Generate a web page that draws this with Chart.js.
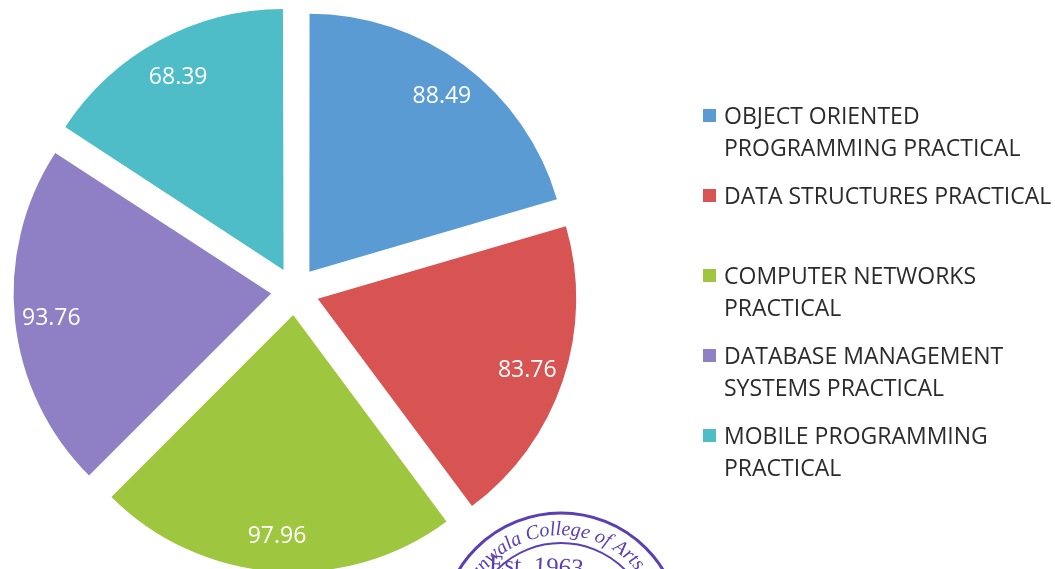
<!DOCTYPE html>
<html>
<head>
<meta charset="utf-8">
<script src="https://cdn.jsdelivr.net/npm/chart.js@4"></script>
<style>
    html, body { margin: 0; padding: 0; background: #fff; overflow: hidden; }
    body { width: 1055px; height: 569px; position: relative; }
    #pieChart { position: absolute; left: 0; top: 0; }
    #legend { position: absolute; left: 0; top: 0; font-family: "Open Sans", sans-serif; font-size: 23px; color: #2b2b2b; }
    .item { position: absolute; left: 724px; line-height: 32px; white-space: nowrap; }
    .box { position: absolute; left: -21px; top: 10px; width: 13px; height: 13px; }
</style>
</head>
<body>
<canvas id="pieChart" width="1055" height="582"></canvas>
<div id="legend"></div>
<script>
const subjects = [
    "OBJECT ORIENTED PROGRAMMING PRACTICAL",
    "DATA STRUCTURES PRACTICAL",
    "COMPUTER NETWORKS PRACTICAL",
    "DATABASE MANAGEMENT SYSTEMS PRACTICAL",
    "MOBILE PROGRAMMING PRACTICAL"
];
const legendLines = [
    ["OBJECT ORIENTED", "PROGRAMMING PRACTICAL"],
    ["DATA STRUCTURES PRACTICAL"],
    ["COMPUTER NETWORKS", "PRACTICAL"],
    ["DATABASE MANAGEMENT", "SYSTEMS PRACTICAL"],
    ["MOBILE PROGRAMMING", "PRACTICAL"]
];
const scores = [88.49, 83.76, 97.96, 93.76, 68.39];
const sliceColors = ["#5a9bd4", "#d75452", "#9fc63f", "#8f7fc4", "#4fbdc7"];

// Chart.js moves an arc by offset / 4, so 96 gives the ~24px explode
const explode = 96;

// legend on the right, one fixed-height slot per subject
const legend = document.getElementById("legend");
legendLines.forEach((lines, i) => {
    const item = document.createElement("div");
    item.className = "item";
    item.style.top = (99 + i * 80) + "px";
    item.innerHTML = '<span class="box" style="background:' + sliceColors[i] + '"></span>' + lines.join("<br>");
    legend.appendChild(item);
});

// white value labels inside each slice
const sliceLabels = {
    id: "sliceLabels",
    afterDatasetsDraw(chart) {
        const ctx = chart.ctx;
        const meta = chart.getDatasetMeta(0);
        const ds = chart.data.datasets[0];
        ctx.save();
        ctx.fillStyle = "#ffffff";
        ctx.font = '23px "Open Sans", sans-serif';
        ctx.textAlign = "center";
        ctx.textBaseline = "alphabetic";
        meta.data.forEach((arc, i) => {
            const p = arc.getProps(["x", "y", "startAngle", "endAngle", "outerRadius"], true);
            const mid = (p.startAngle + p.endAngle) / 2;
            const d = ds.offset / 4 + p.outerRadius * 0.86;
            // +8 puts the middle of the digits on the anchor point
            ctx.fillText(ds.data[i].toFixed(2), p.x + Math.cos(mid) * d, p.y + Math.sin(mid) * d + 8);
        });
        ctx.restore();
    }
};

// faint college seal that sits over the bottom of the scan
function arcText(ctx, text, cx, cy, r, startDeg) {
    let a = startDeg * Math.PI / 180;
    for (const ch of text) {
        const w = ctx.measureText(ch).width;
        const half = w / 2 / r;
        ctx.save();
        ctx.translate(cx + Math.sin(a + half) * r, cy - Math.cos(a + half) * r);
        ctx.rotate(a + half);
        ctx.fillText(ch, 0, 0);
        ctx.restore();
        a += w / r;
    }
}
const seal = {
    id: "seal",
    afterDraw(chart) {
        const ctx = chart.ctx;
        const cx = 561, cy = 633;
        ctx.save();
        ctx.strokeStyle = "#5b3fb4";
        ctx.fillStyle = "#5b3fb4";
        ctx.lineWidth = 3;
        ctx.beginPath();
        ctx.arc(cx, cy, 120, 0, Math.PI * 2);
        ctx.stroke();
        ctx.lineWidth = 2;
        ctx.beginPath();
        ctx.arc(cx, cy, 90, 0, Math.PI * 2);
        ctx.stroke();
        ctx.textAlign = "center";
        ctx.textBaseline = "alphabetic";
        ctx.font = 'italic 20px "Liberation Serif", serif';
        const r = 98;
        const prefix = "Jhunjhunwala ";
        const startC = -20;
        const pre = ctx.measureText(prefix).width / r * 180 / Math.PI;
        arcText(ctx, prefix, cx, cy, r, startC - pre);
        arcText(ctx, "College of Arts, Science", cx, cy, r, startC);
        ctx.font = '25px "Liberation Serif", serif';
        ctx.translate(536, 574);
        ctx.rotate(0.05);
        ctx.fillText("Est. 1963", 0, 0);
        ctx.restore();
    }
};

new Chart(document.getElementById("pieChart"), {
    type: "pie",
    data: {
        labels: subjects,
        datasets: [{
            data: scores,
            backgroundColor: sliceColors,
            borderWidth: 0,
            offset: explode,
            hoverOffset: 0,
            radius: 257
        }]
    },
    options: {
        responsive: false,
        animation: false,
        layout: { padding: { left: 0, right: 465, top: 0, bottom: 0 } },
        plugins: {
            legend: { display: false },
            tooltip: { enabled: false }
        }
    },
    plugins: [sliceLabels, seal]
});
</script>
</body>
</html>
